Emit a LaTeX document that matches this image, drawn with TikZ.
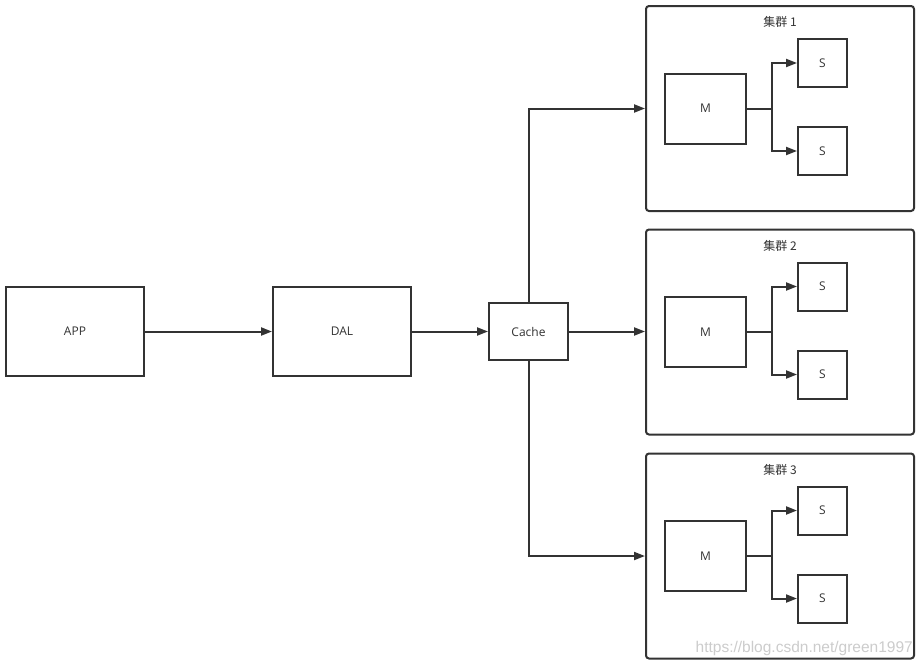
\documentclass[tikz,border=0pt]{standalone}
\usepackage{fontspec}
\setmainfont{Open Sans}
\newfontfamily\cjkfont{Noto Sans CJK SC}
\newfontfamily\wmfont{Liberation Sans}
\usetikzlibrary{arrows.meta}
\definecolor{ln}{HTML}{333333}
\definecolor{tx}{HTML}{333333}
\begin{document}
\begin{tikzpicture}[x=1pt,y=-1pt,
  box/.style={draw=ln,line width=2pt,fill=white,inner sep=0pt,font=\fontsize{12}{14}\selectfont,text=tx},
  cluster/.style={draw=ln,line width=2pt,rounded corners=3pt,minimum width=268pt,minimum height=205pt,inner sep=0pt},
  conn/.style={draw=ln,line width=2pt},
  arr/.style={conn,-{Triangle[length=11pt,width=8pt]}}]
\useasboundingbox (0,0) rectangle (923,665);
\fill[white] (0,0) rectangle (923,665);
\node[box,minimum width=138pt,minimum height=89pt] (app) at (75,331.5) {APP};
\node[box,minimum width=138pt,minimum height=89pt] (dal) at (342,331.5) {DAL};
\node[box,minimum width=79pt,minimum height=57pt] (cache) at (528.5,331.5) {Cache};
\foreach \i/\dy in {1/0,2/223.5,3/447.5}{
  \node[cluster] (c\i) at (780,108.5+\dy) {};
  \node[font=\cjkfont\fontsize{12}{14}\selectfont,text=tx] (t\i) at (780,22+\dy) {集群 \i};
  \node[box,minimum width=81pt,minimum height=70pt] (m\i) at (705.5,108.5+\dy) {M};
  \node[box,minimum width=49pt,minimum height=48pt] (sa\i) at (822.5,63+\dy) {S};
  \node[box,minimum width=49pt,minimum height=48pt] (sb\i) at (822.5,151+\dy) {S};
  \coordinate (j\i) at (772,108.5+\dy);
  \draw[conn] (m\i.east) -- (j\i);
  \draw[arr] (j\i) |- (sa\i.west);
  \draw[arr] (j\i) |- (sb\i.west);
}
\draw[arr] (app) -- (dal);
\draw[arr] (dal) -- (cache);
\draw[arr] (cache.north) |- (c1.west |- m1.center);
\draw[arr] (cache.east) -- (c2.west |- cache.east);
\draw[arr] (cache.south) |- (c3.west |- m3.center);
\node[anchor=base east,font=\wmfont\fontsize{15.5}{18}\selectfont,text=black!20,inner sep=0pt] (wm) at (913,652) {https://blog.csdn.net/green1997};
\end{tikzpicture}
\end{document}
